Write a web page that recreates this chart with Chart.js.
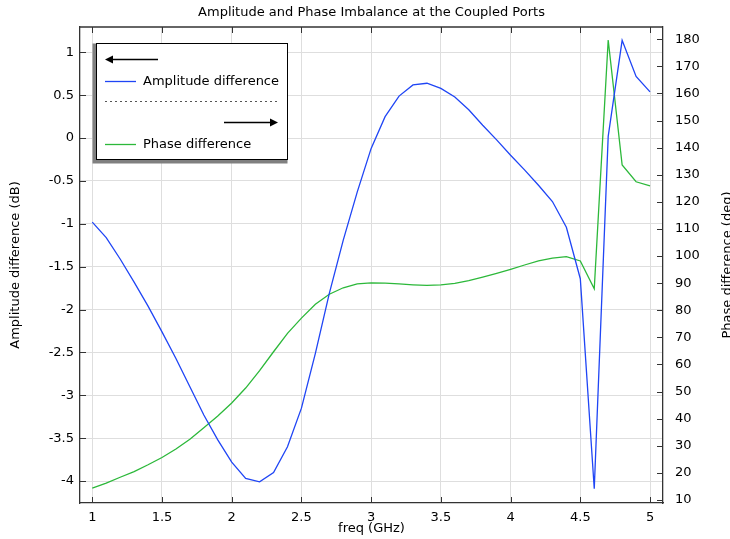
<!DOCTYPE html>
<html>
<head>
<meta charset="utf-8">
<script src="https://cdn.jsdelivr.net/npm/chart.js@4.4.1/dist/chart.umd.min.js"></script>
<style>
  html, body { margin: 0; padding: 0; background: #fff; }
  #wrap { width: 730px; height: 539px; position: relative; }
</style>
</head>
<body>
<div id="wrap"><canvas id="couplerChart"></canvas></div>
<script>
// frequence (GHz)
const freq = [1.0, 1.1, 1.2, 1.3, 1.4, 1.5, 1.6, 1.7, 1.8, 1.9,
              2.0, 2.1, 2.2, 2.3, 2.4, 2.5, 2.6, 2.7, 2.8, 2.9,
              3.0, 3.1, 3.2, 3.3, 3.4, 3.5, 3.6, 3.7, 3.8, 3.9,
              4.0, 4.1, 4.2, 4.3, 4.4, 4.5, 4.6, 4.7, 4.8, 4.9, 5.0];

// ecart d'amplitude (dB)
const ampDiff = [-0.98, -1.16, -1.41, -1.68, -1.96, -2.26, -2.57, -2.90, -3.23, -3.52,
                 -3.78, -3.97, -4.01, -3.90, -3.60, -3.15, -2.51, -1.81, -1.19, -0.63,
                 -0.12, 0.25, 0.49, 0.62, 0.64, 0.58, 0.48, 0.33, 0.15, -0.02,
                 -0.20, -0.37, -0.55, -0.74, -1.04, -1.64, -4.09, 0.02, 1.14, 0.72, 0.54];

// ecart de phase (deg)
const phaseDiff = [14.4, 16.2, 18.4, 20.5, 23.0, 25.7, 28.8, 32.4, 36.7, 41.0,
                   45.8, 51.3, 57.7, 64.7, 71.5, 77.1, 82.2, 85.9, 88.3, 89.7,
                   90.1, 90.0, 89.7, 89.4, 89.2, 89.4, 89.9, 90.9, 92.2, 93.6,
                   95.1, 96.7, 98.2, 99.2, 99.8, 98.2, 87.9, 179.7, 133.6, 127.4, 125.9];

const xTicks = [1, 1.5, 2, 2.5, 3, 3.5, 4, 4.5, 5];
const ampTicks = [-4, -3.5, -3, -2.5, -2, -1.5, -1, -0.5, 0, 0.5, 1];
const phaseTicks = [10, 20, 30, 40, 50, 60, 70, 80, 90, 100, 110, 120, 130, 140, 150, 160, 170, 180];

const titre = "Amplitude and Phase Imbalance at the Coupled Ports";
const labelAmp = "Amplitude difference";
const labelPhase = "Phase difference";
const titreX = "freq (GHz)";
const titreY = "Amplitude difference (dB)";
const titreY2 = "Phase difference (deg)";

const bleu = "#1f45f5";
const vert = "#2cb83a";
const police = "'DejaVu Sans', sans-serif";

Chart.defaults.font.family = police;
Chart.defaults.font.size = 13;
Chart.defaults.color = "#000";

function fixerTicks(liste) {
    return function (scale) {
        scale.ticks = liste.map(v => ({ value: v }));
    };
}

// traits de graduation vers l'interieur + cadre du haut
const graduations = {
    id: "graduations",
    afterDatasetsDraw(chart) {
        const ctx = chart.ctx;
        const a = chart.chartArea;
        const L = 6;
        ctx.save();
        ctx.strokeStyle = "#333";
        ctx.lineWidth = 1;
        ctx.beginPath();
        chart.scales.x.ticks.forEach(t => {
            const px = Math.round(chart.scales.x.getPixelForValue(t.value)) + 0.5;
            ctx.moveTo(px, a.bottom); ctx.lineTo(px, a.bottom - L);
            ctx.moveTo(px, a.top); ctx.lineTo(px, a.top + L);
        });
        chart.scales.y.ticks.forEach(t => {
            const py = Math.round(chart.scales.y.getPixelForValue(t.value)) + 0.5;
            ctx.moveTo(a.left, py); ctx.lineTo(a.left + L, py);
        });
        chart.scales.y2.ticks.forEach(t => {
            const py = Math.round(chart.scales.y2.getPixelForValue(t.value)) + 0.5;
            ctx.moveTo(a.right, py); ctx.lineTo(a.right - L, py);
        });
        ctx.stroke();
        ctx.lineWidth = 1.3;
        ctx.beginPath();
        ctx.moveTo(a.left, a.top); ctx.lineTo(a.right, a.top);
        ctx.stroke();
        ctx.restore();
    }
};

// titres (graphique + axes)
const titres = {
    id: "titres",
    afterDraw(chart) {
        const ctx = chart.ctx;
        const a = chart.chartArea;
        const cx = (a.left + a.right) / 2;
        const cy = (a.top + a.bottom) / 2;
        ctx.save();
        ctx.fillStyle = "#000";
        ctx.font = "13px " + police;
        ctx.textAlign = "center";
        ctx.textBaseline = "middle";
        ctx.fillText(titre, cx, 13);
        ctx.fillText(titreX, cx, 529);
        ctx.translate(16, cy);
        ctx.rotate(-Math.PI / 2);
        ctx.fillText(titreY, 0, 0);
        ctx.restore();
        ctx.save();
        ctx.fillStyle = "#000";
        ctx.font = "13px " + police;
        ctx.textAlign = "center";
        ctx.textBaseline = "middle";
        ctx.translate(728, cy);
        ctx.rotate(-Math.PI / 2);
        ctx.fillText(titreY2, 0, 0);
        ctx.restore();
    }
};

function fleche(ctx, x1, x2, y, versGauche) {
    const tete = 8;
    ctx.beginPath();
    if (versGauche) {
        ctx.moveTo(x1 + tete, y); ctx.lineTo(x2, y);
    } else {
        ctx.moveTo(x1, y); ctx.lineTo(x2 - tete, y);
    }
    ctx.stroke();
    ctx.beginPath();
    if (versGauche) {
        ctx.moveTo(x1, y); ctx.lineTo(x1 + tete, y - 4); ctx.lineTo(x1 + tete, y + 4);
    } else {
        ctx.moveTo(x2, y); ctx.lineTo(x2 - tete, y - 4); ctx.lineTo(x2 - tete, y + 4);
    }
    ctx.closePath();
    ctx.fill();
}

// legende maison avec les fleches
const legende = {
    id: "legende",
    afterDraw(chart) {
        const ctx = chart.ctx;
        ctx.save();
        ctx.fillStyle = "#808080";
        ctx.fillRect(92.5, 43.5, 195, 120);
        ctx.fillStyle = "#fff";
        ctx.fillRect(96, 43.5, 191.5, 116);
        ctx.strokeStyle = "#000";
        ctx.lineWidth = 1;
        ctx.strokeRect(96.5, 43.5, 191, 116);

        ctx.fillStyle = "#000";
        ctx.strokeStyle = "#000";
        ctx.lineWidth = 1.5;
        fleche(ctx, 105, 158, 59.5, true);
        fleche(ctx, 224, 278, 122.5, false);

        ctx.lineWidth = 1.3;
        ctx.strokeStyle = bleu;
        ctx.beginPath(); ctx.moveTo(105, 81.5); ctx.lineTo(136, 81.5); ctx.stroke();
        ctx.strokeStyle = vert;
        ctx.beginPath(); ctx.moveTo(105, 144.5); ctx.lineTo(136, 144.5); ctx.stroke();

        ctx.strokeStyle = "#555";
        ctx.lineWidth = 1;
        ctx.setLineDash([2, 3]);
        ctx.beginPath(); ctx.moveTo(105, 101.5); ctx.lineTo(277, 101.5); ctx.stroke();
        ctx.setLineDash([]);

        ctx.font = "13px " + police;
        ctx.textAlign = "left";
        ctx.textBaseline = "middle";
        ctx.fillText(labelAmp, 143, 81.5);
        ctx.fillText(labelPhase, 143, 145);
        ctx.restore();
    }
};

const ctx = document.getElementById("couplerChart").getContext("2d");
new Chart(ctx, {
    type: "line",
    data: {
        datasets: [{
            label: labelAmp,
            data: freq.map((f, i) => ({ x: f, y: ampDiff[i] })),
            borderColor: bleu,
            borderWidth: 1.3,
            pointRadius: 0,
            tension: 0,
            yAxisID: "y"
        }, {
            label: labelPhase,
            data: freq.map((f, i) => ({ x: f, y: phaseDiff[i] })),
            borderColor: vert,
            borderWidth: 1.3,
            pointRadius: 0,
            tension: 0,
            yAxisID: "y2"
        }]
    },
    options: {
        responsive: true,
        maintainAspectRatio: false,
        animation: false,
        layout: { padding: { top: 27, left: 0, right: 0, bottom: 0 } },
        plugins: {
            legend: { display: false },
            title: { display: false },
            tooltip: { enabled: false }
        },
        scales: {
            x: {
                type: "linear",
                min: 0.912,
                max: 5.093,
                afterBuildTicks: fixerTicks(xTicks),
                afterFit: s => { s.height = 36; },
                grid: { color: "#dedede", lineWidth: 1, drawTicks: false },
                border: { color: "#333", width: 1.3 },
                ticks: { padding: 7, maxRotation: 0, autoSkip: false, callback: v => String(v) }
            },
            y: {
                type: "linear",
                position: "left",
                min: -4.256,
                max: 1.296,
                afterBuildTicks: fixerTicks(ampTicks),
                afterFit: s => { s.width = 80; },
                grid: { color: "#dedede", lineWidth: 1, drawTicks: false },
                border: { color: "#333", width: 1.3 },
                ticks: { padding: 6, autoSkip: false, callback: v => String(v) }
            },
            y2: {
                type: "linear",
                position: "right",
                min: 8.9,
                max: 184.5,
                afterBuildTicks: fixerTicks(phaseTicks),
                afterFit: s => { s.width = 67; },
                grid: { display: false, drawOnChartArea: false },
                border: { color: "#333", width: 1.3 },
                ticks: { padding: 4, autoSkip: false, callback: v => String(v) }
            }
        }
    },
    plugins: [graduations, titres, legende]
});
</script>
</body>
</html>
